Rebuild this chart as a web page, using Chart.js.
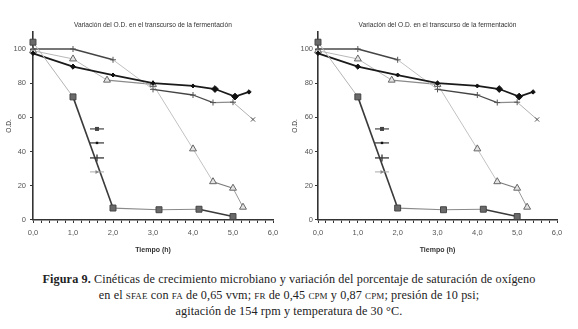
<!DOCTYPE html>
<html>
<head>
<meta charset="utf-8">
<script src="https://cdn.jsdelivr.net/npm/chart.js@4.4.1/dist/chart.umd.min.js"></script>
<style>
  body { margin: 0; background: #fff; }
  #wrap { position: relative; width: 578px; height: 329px; overflow: hidden; }
  #c1 { position: absolute; left: 0; top: 0; }
  #c2 { position: absolute; left: 290px; top: 0; }
  #cap {
    position: absolute; left: 0; top: 271px; width: 578px; text-align: center;
    font-family: "Liberation Serif", serif; font-size: 12.2px; letter-spacing: 0.1px;
    line-height: 16px; color: #222;
  }
  .sc { font-variant: small-caps; }
</style>
</head>
<body>
<div id="wrap">
  <canvas id="c1" width="290" height="262"></canvas>
  <canvas id="c2" width="288" height="262"></canvas>
  <div id="cap">
    <b>Figura 9.</b> Cinéticas de crecimiento microbiano y variación del porcentaje de saturación de oxígeno<br>
    en el <span class="sc">sfae</span> con <span class="sc">fa</span> de 0,65 vvm; <span class="sc">fr</span> de 0,45 <span class="sc">cpm</span> y 0,87 <span class="sc">cpm</span>; presión de 10 psi;<br>
    agitación de 154 rpm y temperatura de 30 °C.
  </div>
</div>
<script>
// data (both panels show the same curves)
const squareX = [0, 1, 2, 3.15, 4.15, 5];
const squareY = [104, 72, 7, 6, 6.3, 2];
const dotX = [0, 1, 2, 3, 4, 4.55, 5.05, 5.4];
const dotY = [97.5, 89.7, 84.8, 80, 78.4, 76.6, 72.2, 74.9];
const crossX = [0, 1, 2, 3, 4, 4.5, 5, 5.5];
const crossY = [100, 100, 93.7, 76.4, 73.1, 68.7, 68.9, 58.8];
const triX = [0, 1, 1.85, 3, 4, 4.5, 5, 5.25];
const triY = [99, 94.2, 81.8, 79.3, 41.6, 22.4, 18.6, 7.5];

const chartTitle = "Variación del O.D. en el transcurso de la fermentación";
const xTitle = "Tiempo (h)";
const yTitle = "O.D.";

// per-segment line styles (the scan shows lighter and darker pieces)
const squareSeg = ['#b4b4b4', '#3a3a3a', '#8a8a8a', '#8a8a8a', '#3a3a3a'];
const squareSegW = [1, 1.6, 1.2, 1.2, 1.6];
const crossSeg = ['#4a4a4a', '#444', '#c0c0c0', '#444', '#4a4a4a', '#8c8c8c', '#b0b0b0'];
const crossSegW = [1.3, 1.4, 1, 1.4, 1.3, 1.3, 1];
const triSeg = ['#b8b8b8', '#b8b8b8', '#8a8a8a', '#c2c2c2', '#c2c2c2', '#7a7a7a', '#999'];
const triSegW = [1, 1, 1.1, 1, 1, 1.2, 1];

const pts = (xs, ys) => xs.map((x, i) => ({ x: x, y: ys[i] }));
const seg = (colors, widths) => ({
  borderColor: ctx => colors[ctx.p0DataIndex],
  borderWidth: ctx => widths[ctx.p0DataIndex]
});

// little legend samples without text, drawn inside the plot
const legendSamples = {
  id: 'legendSamples',
  afterDatasetsDraw(chart) {
    const ctx = chart.ctx, a = chart.chartArea;
    const x0 = a.left + 57, x1 = a.left + 71, xm = (x0 + x1) / 2;
    const rows = [97, 111, 126, 140].map(v => a.top + v);
    ctx.save();
    const line = (y, c, w) => {
      ctx.strokeStyle = c; ctx.lineWidth = w;
      ctx.beginPath(); ctx.moveTo(x0, y); ctx.lineTo(x1, y); ctx.stroke();
    };
    line(rows[0], '#444', 1.2);
    ctx.fillStyle = '#444'; ctx.fillRect(xm - 2, rows[0] - 2, 4, 4);
    line(rows[1], '#333', 1.2);
    ctx.fillStyle = '#111'; ctx.fillRect(xm - 1.2, rows[1] - 1.2, 2.4, 2.4);
    line(rows[2], '#333', 1.3);
    ctx.beginPath(); ctx.moveTo(xm, rows[2] - 3.5); ctx.lineTo(xm, rows[2] + 3.5); ctx.stroke();
    line(rows[3], '#aaa', 1);
    ctx.fillStyle = '#888';
    ctx.beginPath(); ctx.moveTo(xm + 2, rows[3]); ctx.lineTo(xm - 1.5, rows[3] - 2); ctx.lineTo(xm - 1.5, rows[3] + 2); ctx.fill();
    ctx.restore();
  }
};

function buildChart(id, o) {
  const font = { family: "'Liberation Sans', Arial, sans-serif" };
  return new Chart(document.getElementById(id), {
    type: 'line',
    data: {
      datasets: [
        {
          data: pts(squareX, squareY),
          segment: seg(squareSeg, squareSegW),
          borderColor: '#3a3a3a',
          pointStyle: 'rect', pointRadius: 4.2,
          pointBackgroundColor: '#6a6a6a', pointBorderColor: '#444', pointBorderWidth: 1
        },
        {
          data: pts(dotX, dotY),
          borderColor: '#1a1a1a', borderWidth: 1.8,
          pointStyle: 'rectRot', pointRadius: [2.2, 2.6, 2, 2.2, 2, 3.4, 3.4, 2.2],
          pointBackgroundColor: '#111', pointBorderColor: '#111', pointBorderWidth: 1
        },
        {
          data: pts(crossX, crossY),
          segment: seg(crossSeg, crossSegW),
          borderColor: '#444',
          pointStyle: ['cross', 'cross', 'cross', 'cross', 'cross', 'cross', 'cross', 'crossRot'],
          pointRadius: 3,
          pointBorderColor: '#555', pointBorderWidth: 1
        },
        {
          data: pts(triX, triY),
          segment: seg(triSeg, triSegW),
          borderColor: '#aaa',
          pointStyle: 'triangle', pointRadius: 4,
          pointBackgroundColor: '#e4e4e4', pointBorderColor: '#666', pointBorderWidth: 1
        }
      ]
    },
    options: {
      responsive: false,
      animation: false,
      clip: false,
      layout: { padding: { left: 0, right: o.right, top: 0, bottom: 0 } },
      elements: { line: { tension: 0, fill: false } },
      plugins: {
        legend: { display: false },
        tooltip: { enabled: false },
        title: {
          display: true, text: chartTitle, fullSize: false,
          color: '#333', font: { ...font, size: 6.6, weight: 'normal' },
          padding: { top: 21, bottom: 3 }
        }
      },
      scales: {
        x: {
          type: 'linear', min: 0, max: 6,
          afterFit: s => { s.height = 42; },
          border: { display: true, color: '#333', width: 1.6 },
          grid: { drawOnChartArea: false, drawTicks: true, tickLength: 3, color: '#333' },
          ticks: {
            stepSize: 0.2, autoSkip: false, maxRotation: 0, padding: 5,
            color: '#555', font: { ...font, size: 7.5 },
            callback: v => Math.abs(v - Math.round(v)) < 1e-6 ? Math.round(v).toFixed(1).replace('.', ',') : ''
          },
          title: {
            display: true, text: xTitle, color: '#333',
            font: { ...font, size: 7, weight: 'bold' },
            padding: { top: 0, bottom: 8 }
          }
        },
        y: {
          min: 0, max: 110,
          afterFit: s => { s.width = o.yWidth; },
          border: { display: true, color: '#333', width: 1.6 },
          grid: { drawOnChartArea: false, drawTicks: true, tickLength: 3, color: '#333' },
          ticks: {
            stepSize: 20, includeBounds: false, padding: o.tickPad,
            color: '#555', font: { ...font, size: 7.5 }
          },
          title: {
            display: true, text: yTitle, color: '#444',
            font: { ...font, size: 6.6 },
            padding: { top: o.yTitlePad, bottom: 0 }
          }
        }
      }
    },
    plugins: [legendSamples]
  });
}

buildChart('c1', { yWidth: 33, right: 17, tickPad: 4, yTitlePad: 5 });
buildChart('c2', { yWidth: 28, right: 21, tickPad: 2, yTitlePad: 1 });
</script>
</body>
</html>
